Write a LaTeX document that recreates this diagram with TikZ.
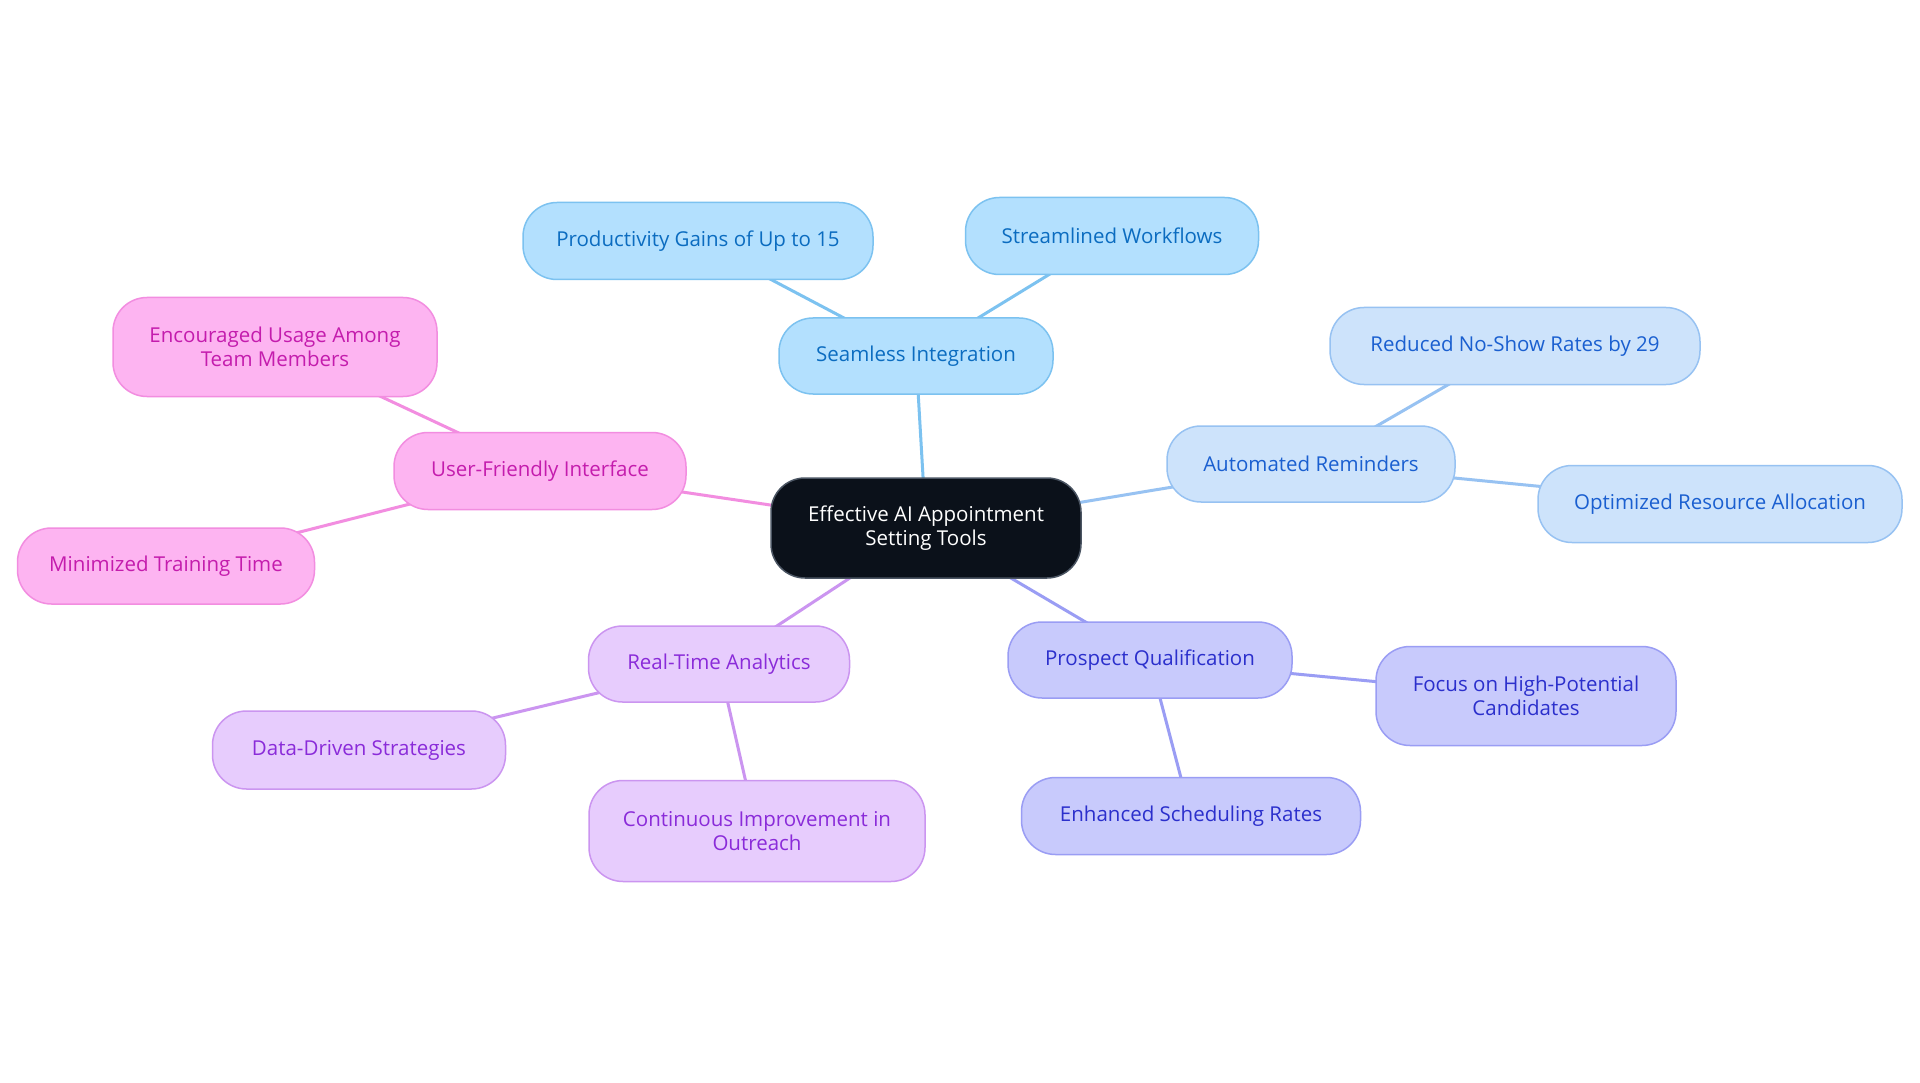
\documentclass[tikz,border=0pt]{standalone}
\usepackage{fontspec}
\setmainfont{Open Sans}
\usetikzlibrary{backgrounds}
\pgfdeclarelayer{bottom}
\pgfsetlayers{bottom,background,main}
\definecolor{rootfill}{HTML}{0B111A}
\definecolor{rootdraw}{HTML}{4B5563}
\definecolor{bAfill}{HTML}{B3E0FE}\definecolor{bAdraw}{HTML}{7CC2F0}\definecolor{bAtext}{HTML}{0B6CC0}
\definecolor{bBfill}{HTML}{CDE3FB}\definecolor{bBdraw}{HTML}{97C2F2}\definecolor{bBtext}{HTML}{1A5FD0}
\definecolor{bCfill}{HTML}{C8CAFC}\definecolor{bCdraw}{HTML}{9A9DF4}\definecolor{bCtext}{HTML}{2B2FCC}
\definecolor{bDfill}{HTML}{E7CCFD}\definecolor{bDdraw}{HTML}{CB95F0}\definecolor{bDtext}{HTML}{8A2BD9}
\definecolor{bEfill}{HTML}{FDB4F1}\definecolor{bEdraw}{HTML}{F28DE0}\definecolor{bEtext}{HTML}{C41CAD}
\tikzset{
  box/.style={rounded corners=34pt, line width=1.5pt, align=center, font=\fontsize{20.5}{24}\selectfont, inner sep=0pt},
  rootbox/.style={box, fill=rootfill, draw=rootdraw, text=white},
  grpA/.style={box, fill=bAfill, draw=bAdraw, text=bAtext},
  grpB/.style={box, fill=bBfill, draw=bBdraw, text=bBtext},
  grpC/.style={box, fill=bCfill, draw=bCdraw, text=bCtext},
  grpD/.style={box, fill=bDfill, draw=bDdraw, text=bDtext},
  grpE/.style={box, fill=bEfill, draw=bEdraw, text=bEtext},
  lnA/.style={line width=3pt, draw=bAdraw},
  lnB/.style={line width=3pt, draw=bBdraw},
  lnC/.style={line width=3pt, draw=bCdraw},
  lnD/.style={line width=3pt, draw=bDdraw},
  lnE/.style={line width=3pt, draw=bEdraw},
}
\begin{document}
\begin{tikzpicture}[x=1pt,y=-1pt]
\begin{pgfonlayer}{bottom}
\fill[white] (0,0) rectangle (1920,1083);
\end{pgfonlayer}
\useasboundingbox (0,0) rectangle (1920,1083);
\node[rootbox, minimum width=310pt, minimum height=100pt] (root) at (926,528) {Effective AI Appointment\\Setting Tools};
% group A
\node[grpA, minimum width=274pt, minimum height=76pt] (seam) at (916,356) {Seamless Integration};
\node[grpA, minimum width=350pt, minimum height=77pt] (prod) at (698,241) {Productivity Gains of Up to 15};
\node[grpA, minimum width=293pt, minimum height=77pt] (stream) at (1112,236) {Streamlined Workflows};
% group B
\node[grpB, minimum width=288pt, minimum height=76pt] (auto) at (1311,464) {Automated Reminders};
\node[grpB, minimum width=370pt, minimum height=77pt] (noshow) at (1515,346) {Reduced No-Show Rates by 29};
\node[grpB, minimum width=364pt, minimum height=77pt] (optim) at (1720,504) {Optimized Resource Allocation};
% group C
\node[grpC, minimum width=284pt, minimum height=76pt] (prosp) at (1150,660) {Prospect Qualification};
\node[grpC, minimum width=300pt, minimum height=99pt] (focus) at (1526,696) {Focus on High-Potential\\Candidates};
\node[grpC, minimum width=339pt, minimum height=77pt] (enh) at (1191,816) {Enhanced Scheduling Rates};
% group D
\node[grpD, minimum width=261pt, minimum height=76pt] (rta) at (719,664) {Real-Time Analytics};
\node[grpD, minimum width=293pt, minimum height=78pt] (dds) at (359,750) {Data-Driven Strategies};
\node[grpD, minimum width=336pt, minimum height=101pt] (cont) at (757,831) {Continuous Improvement in\\Outreach};
% group E
\node[grpE, minimum width=292pt, minimum height=77pt] (user) at (540,471) {User-Friendly Interface};
\node[grpE, minimum width=324pt, minimum height=99pt] (enc) at (275,347) {Encouraged Usage Among\\Team Members};
\node[grpE, minimum width=297pt, minimum height=76pt] (mini) at (166,566) {Minimized Training Time};
\begin{scope}[on background layer]
\draw[lnA] (root.center) -- (seam.center);
\draw[lnA] (seam.center) -- (prod.center);
\draw[lnA] (seam.center) -- (stream.center);
\draw[lnB] (root.center) -- (auto.center);
\draw[lnB] (auto.center) -- (noshow.center);
\draw[lnB] (auto.center) -- (optim.center);
\draw[lnC] (root.center) -- (prosp.center);
\draw[lnC] (prosp.center) -- (focus.center);
\draw[lnC] (prosp.center) -- (enh.center);
\draw[lnD] (root.center) -- (rta.center);
\draw[lnD] (rta.center) -- (dds.center);
\draw[lnD] (rta.center) -- (cont.center);
\draw[lnE] (root.center) -- (user.center);
\draw[lnE] (user.center) -- (enc.center);
\draw[lnE] (user.center) -- (mini.center);
\end{scope}
\end{tikzpicture}
\end{document}
